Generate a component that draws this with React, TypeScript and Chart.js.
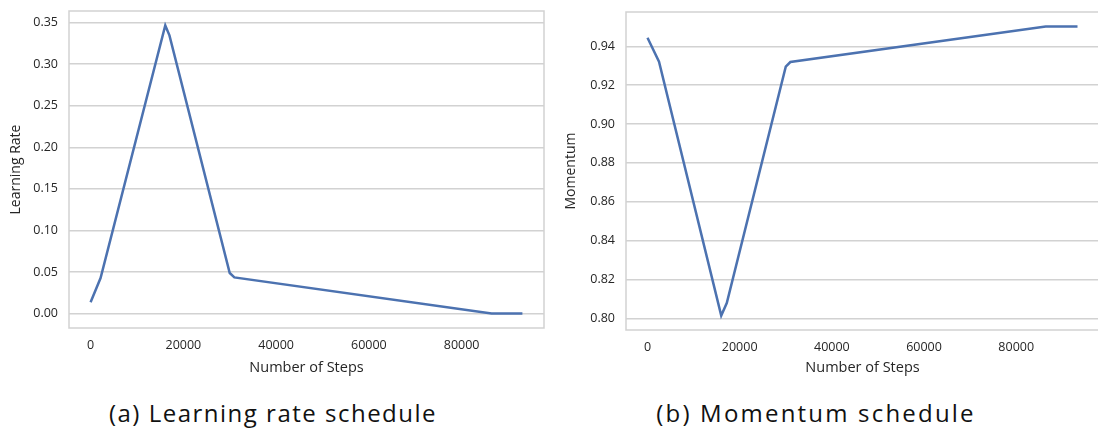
import React, { useEffect, useRef } from 'react';
import { Chart, registerables } from 'chart.js';
Chart.register(...registerables);

const LR_STEPS = [0, 2150, 16100, 17000, 30000, 31000, 86450, 93100];
const LR_VALUES = [0.0136, 0.0428, 0.3465, 0.3345, 0.0488, 0.0435, 0.0, 0.0];
const MOM_STEPS = [0, 2500, 16000, 17200, 30000, 31000, 86400, 93300];
const MOM_VALUES = [0.9444, 0.9321, 0.8015, 0.8079, 0.9295, 0.9319, 0.9502, 0.9502];
const X_TICKS = [0, 20000, 40000, 60000, 80000];
const LR_TICKS = [0.0, 0.05, 0.1, 0.15, 0.2, 0.25, 0.3, 0.35];
const MOM_TICKS = [0.8, 0.82, 0.84, 0.86, 0.88, 0.9, 0.92, 0.94];
const X_TITLE = 'Number of Steps';
const LR_TITLE = 'Learning Rate';
const MOM_TITLE = 'Momentum';
const CAPTION_A = '(a) Learning rate schedule';
const CAPTION_B = '(b) Momentum schedule';

const LINE = '#4c72b0';
const GRID = '#d2d2d2';
const TEXT = '#262626';
const FONT = "'Open Sans', 'DejaVu Sans', sans-serif";

const boxPlugin = {
  id: 'box',
  beforeDatasetsDraw(chart: any) {
    const { ctx, chartArea } = chart;
    ctx.save();
    ctx.strokeStyle = GRID;
    ctx.lineWidth = 1.5;
    ctx.strokeRect(chartArea.left, chartArea.top, chartArea.right - chartArea.left, chartArea.bottom - chartArea.top);
    ctx.restore();
  },
};

function margins(vals: number[]) {
  const mn = Math.min(...vals);
  const mx = Math.max(...vals);
  const m = (mx - mn) * 0.05;
  return [mn - m, mx + m];
}

function makeConfig(steps: number[], values: number[], yTicks: number[], yTitle: string, yW: number, xH: number, pad: any, yTitlePad: number) {
  const [xMin, xMax] = margins(steps);
  const [yMin, yMax] = margins(values);
  return {
    type: 'line',
    data: {
      datasets: [
        {
          data: steps.map((s, i) => ({ x: s, y: values[i] })),
          borderColor: LINE,
          borderWidth: 2.5,
          pointRadius: 0,
          tension: 0,
          fill: false,
        },
      ],
    },
    options: {
      animation: false,
      responsive: false,
      maintainAspectRatio: false,
      layout: { padding: pad },
      plugins: { legend: { display: false }, tooltip: { enabled: false } },
      scales: {
        x: {
          type: 'linear',
          min: xMin,
          max: xMax,
          grid: { display: false },
          border: { display: false },
          afterBuildTicks: (s: any) => { s.ticks = X_TICKS.map((v) => ({ value: v })); },
          afterFit: (s: any) => { s.height = xH; s.paddingLeft = 0; s.paddingRight = 0; },
          ticks: {
            color: TEXT,
            font: { family: FONT, size: 12.5 },
            padding: 2,
            maxRotation: 0,
            callback: (v: any) => String(v),
          },
          title: { display: true, text: X_TITLE, color: TEXT, font: { family: FONT, size: 14.5 }, padding: { top: 0, bottom: 3 } },
        },
        y: {
          type: 'linear',
          min: yMin,
          max: yMax,
          grid: { color: GRID, lineWidth: 1.5, drawTicks: false },
          border: { display: false },
          afterBuildTicks: (s: any) => { s.ticks = yTicks.map((v) => ({ value: v })); },
          afterFit: (s: any) => { s.width = yW; s.paddingTop = 0; s.paddingBottom = 0; },
          ticks: {
            color: TEXT,
            font: { family: FONT, size: 12.5 },
            padding: 11,
            callback: (v: any) => Number(v).toFixed(2),
          },
          title: { display: true, text: yTitle, color: TEXT, font: { family: FONT, size: 14 }, padding: { top: yTitlePad, bottom: 0 } },
        },
      },
    },
    plugins: [boxPlugin],
  } as any;
}

function ChartBox(props: { cfg: any; left: number; width: number; height: number }) {
  const ref = useRef<HTMLCanvasElement>(null);
  useEffect(() => {
    const c = new Chart(ref.current as HTMLCanvasElement, props.cfg);
    return () => c.destroy();
  }, []);
  return (
    <canvas
      ref={ref}
      width={props.width}
      height={props.height}
      style={{ position: 'absolute', left: props.left, top: 0, width: props.width, height: props.height }}
    />
  );
}

const captionStyle: any = {
  position: 'absolute',
  top: 397,
  fontFamily: "'Open Sans', sans-serif",
  fontSize: 24,
  letterSpacing: '1.5px',
  color: '#111',
  whiteSpace: 'nowrap',
  transform: 'translateX(-50%)',
  lineHeight: '32px',
};

export default function App() {
  const cfgA = makeConfig(LR_STEPS, LR_VALUES, LR_TICKS, LR_TITLE, 69, 52, { left: 0, top: 11, right: 16, bottom: 0 }, 8);
  const cfgB = makeConfig(MOM_STEPS, MOM_VALUES, MOM_TICKS, MOM_TITLE, 77, 50, { left: 0, top: 12, right: 50, bottom: 0 }, 14);
  return (
    <div style={{ position: 'fixed', left: 0, top: 0, width: 1098, height: 436, overflow: 'hidden', background: '#fff' }}>
      <ChartBox cfg={cfgA} left={0} width={560} height={380} />
      <ChartBox cfg={cfgB} left={549} width={600} height={380} />
      <div style={{ ...captionStyle, left: 273 }}>{CAPTION_A}</div>
      <div style={{ ...captionStyle, left: 816, letterSpacing: '2.2px' }}>{CAPTION_B}</div>
    </div>
  );
}
